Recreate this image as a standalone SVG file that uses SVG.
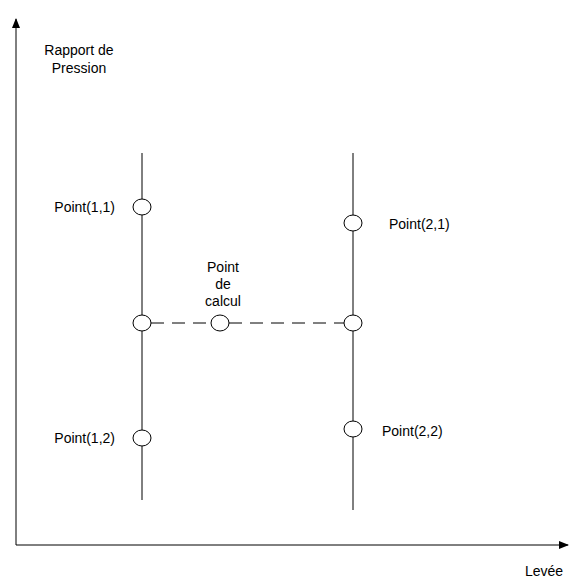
<svg xmlns="http://www.w3.org/2000/svg" width="570" height="580" viewBox="0 0 570 580">
<defs>
<style>
text{font-family:"Liberation Sans",Arial,sans-serif;font-size:14px;fill:#000}
.ax{stroke:#000;stroke-width:1;fill:none}
.ln{stroke:#000;stroke-width:1;fill:none}
.pt{stroke:#000;stroke-width:1;fill:#fff}
.dash{stroke:#000;stroke-width:1;stroke-dasharray:13 8;fill:none}
</style>
<marker id="arr" markerWidth="10" markerHeight="8" refX="9" refY="4" orient="auto" markerUnits="userSpaceOnUse">
<path d="M0,0 L10,4 L0,8 Z" fill="#000"/>
</marker>
</defs>
<rect width="570" height="580" fill="#fff"/>
<g id="connectors">
<line class="ax" x1="16" y1="545" x2="16" y2="19" marker-end="url(#arr)"/>
<line class="ax" x1="16" y1="545" x2="568" y2="545" marker-end="url(#arr)"/>
<line class="ln" x1="142" y1="153" x2="142" y2="500"/>
<line class="ln" x1="353" y1="153" x2="353" y2="510"/>
<line class="dash" x1="151" y1="323" x2="211" y2="323"/>
<line class="dash" x1="229" y1="323" x2="344" y2="323"/>
</g>
<g id="axis-y-label"><text x="79" y="55" text-anchor="middle">Rapport de</text><text x="79" y="73" text-anchor="middle">Pression</text></g>
<g id="axis-x-label"><text x="544" y="576" text-anchor="middle">Levée</text></g>
<g id="p11"><ellipse class="pt" cx="142" cy="207" rx="9" ry="8"/><text x="115" y="212" text-anchor="end">Point(1,1)</text></g>
<g id="p21"><ellipse class="pt" cx="353" cy="223" rx="9" ry="8"/><text x="389" y="229">Point(2,1)</text></g>
<g id="m1"><ellipse class="pt" cx="142" cy="323" rx="9" ry="8"/></g>
<g id="calc"><ellipse class="pt" cx="220" cy="323" rx="9" ry="8"/><text x="223" y="272" text-anchor="middle">Point</text><text x="223" y="289" text-anchor="middle">de</text><text x="223" y="306" text-anchor="middle">calcul</text></g>
<g id="m2"><ellipse class="pt" cx="353" cy="323" rx="9" ry="8"/></g>
<g id="p12"><ellipse class="pt" cx="142" cy="438" rx="9" ry="8"/><text x="115" y="443" text-anchor="end">Point(1,2)</text></g>
<g id="p22"><ellipse class="pt" cx="353" cy="429" rx="9" ry="8"/><text x="382" y="436">Point(2,2)</text></g>
</svg>
